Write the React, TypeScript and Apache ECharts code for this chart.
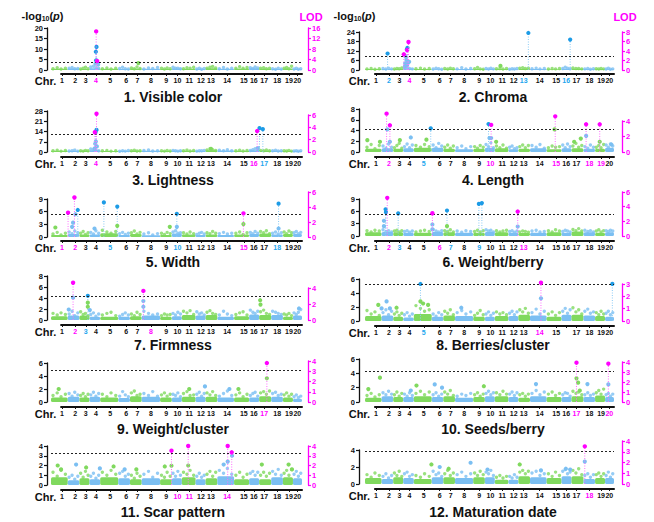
import React, { useEffect, useRef } from "react";
import * as echarts from "echarts";

// ---------- genome layout (chromosome spans and label positions, genome units) ----------
const chrStart = [-30, 20, 55, 85, 117, 171, 206, 241, 296, 331, 361, 402, 432, 467, 517, 562, 592, 628, 663, 693];
const chrEnd = [20, 55, 85, 117, 171, 206, 241, 296, 331, 361, 402, 432, 467, 517, 562, 592, 628, 663, 693, 720];
const chrTickPos = [3, 42, 74, 104, 147, 195, 228, 269, 314, 348, 383, 418, 448, 496, 546, 576, 607, 646, 681, 706];
// relative position of the four background markers inside each chromosome
const markerSlots = [0.12, 0.37, 0.6, 0.86];

// ---------- panel values ----------
const panelTitles = ["1. Visible color", "2. Chroma", "3. Lightness", "4. Length", "5. Width", "6. Weight/berry",
  "7. Firmness", "8. Berries/cluster", "9. Weight/cluster", "10. Seeds/berry", "11. Scar pattern", "12. Maturation date"];
const thresholds = [3.6, 8.8, 12.3, 4.28, 5.4, 5.4, 4.36, 5.24, 4.84, 4.34, 3.25, 3.88];
const leftMax = [20, 24, 28, 8, 9, 9, 8, 6, 6, 6, 4, 4];
const leftStep = [5, 6, 7, 2, 3, 3, 2, 2, 2, 2, 1, 2];
const lodMax = [16, 8, 6, 4, 6, 6, 4, 3, 4, 4, 4, 4];
const lodStep = [4, 2, 2, 2, 2, 2, 2, 1, 1, 1, 1, 1];
const magentaChr = [[4], [4], [4, 16], [2, 10, 15, 18, 19], [1, 2, 15], [2, 6, 13], [2, 8], [14], [17], [17, 20], [10, 11, 14], [18]];
const blueChr = [[], [2, 13, 16], [17], [5], [5, 10, 18], [3, 7, 9], [3], [5], [], [], [], []];
const hiddenChr = [[], [], [], [], [], [], [], [16], [], [], [], []];

// 1. Visible color
const visibleColorBand = [0.6, 0.7, 0.5, 0.8, 0.6, 0.5, 0.7, 0.6, 0.5, 0.7, 0.6, 0.5, 0.8, 0.6, 0.7, 0.8, 0.6, 0.5, 0.7, 0.5];
const visibleColorNoise = [0.6, 1.1, 0.5, 0.9, 0.8, 1.2, 0.6, 0.7, 0.5, 0.9, 1.3, 0.6, 1.4, 1.8, 1.0, 0.8, 0.6, 1.0, 0.5, 0.8,
  0.7, 1.3, 0.6, 0.5, 1.0, 0.6, 1.5, 0.7, 0.5, 1.0, 0.7, 1.2, 0.8, 0.5, 1.0, 0.6, 1.3, 0.8, 0.9, 0.6,
  0.6, 1.1, 0.9, 1.3, 0.5, 0.8, 0.4, 0.7, 0.9, 1.3, 1.7, 1.0, 0.6, 1.2, 0.5, 0.9, 0.9, 1.6, 0.8, 1.2,
  1.1, 0.7, 1.4, 1.0, 0.8, 1.1, 0.6, 0.9, 0.6, 0.4, 0.9, 0.5, 0.8, 1.2, 0.6, 1.8, 0.5, 0.9, 0.4, 0.6];
const visibleColorGwas = [[106, 11.0], [104, 8.7], [105, 4.6], [107, 4.1], [109, 3.4], [103, 3.0], [111, 2.6], [231, 3.3]];
const visibleColorLod = [[105, 14.7], [108, 3.4]];

// 2. Chroma
const chromaBand = [0.6, 0.7, 0.6, 0.9, 0.6, 0.5, 0.7, 0.6, 0.6, 0.6, 0.6, 0.5, 0.8, 0.7, 0.5, 0.8, 0.8, 0.6, 0.6, 0.5];
const chromaNoise = [0.7, 1.0, 0.5, 0.8, 0.9, 0.6, 1.2, 0.7, 0.6, 1.0, 0.8, 1.3, 1.6, 1.2, 0.9, 0.7, 0.8, 1.2, 0.6, 0.9,
  0.6, 1.1, 0.8, 0.5, 0.9, 0.6, 1.2, 0.8, 0.7, 1.4, 0.6, 0.9, 0.8, 1.6, 0.7, 0.5, 0.9, 0.6, 1.1, 0.7,
  0.8, 1.0, 0.6, 0.9, 0.5, 0.8, 0.6, 1.0, 1.2, 1.5, 0.9, 1.1, 0.8, 1.2, 0.7, 0.9, 0.6, 0.9, 0.7, 1.0,
  1.0, 1.8, 1.2, 0.8, 1.3, 0.9, 1.0, 0.7, 0.7, 0.9, 0.5, 0.8, 0.8, 0.6, 1.0, 0.7, 0.6, 1.1, 0.5, 0.7];
const chromaGwas = [[38, 10.4], [98, 14.0], [96, 12.9], [93, 8.3], [95, 6.3], [100, 4.6], [97, 3.1], [90, 2.1], [103, 5.2], [91, 4.2],
  [462, 23.4], [588, 19.2], [378, 2.6]];
const chromaLod = [[87, 3.3], [97, 4.2], [101, 5.9]];

// 3. Lightness
const lightnessBand = [0.8, 0.7, 0.8, 1.2, 0.7, 0.6, 0.8, 0.8, 0.7, 0.8, 0.8, 0.7, 1.2, 1.0, 0.8, 1.2, 0.9, 0.8, 0.7, 0.6];
const lightnessNoise = [0.8, 1.2, 0.6, 1.0, 0.7, 0.9, 1.3, 0.6, 0.9, 0.6, 1.1, 0.8, 2.0, 1.5, 1.2, 0.9, 0.8, 1.1, 0.6, 0.9,
  0.5, 0.8, 0.6, 1.0, 0.9, 1.2, 0.7, 0.8, 1.0, 1.4, 0.7, 0.9, 0.8, 0.6, 1.0, 0.7, 1.1, 0.8, 0.6, 0.9,
  0.9, 1.3, 0.7, 1.0, 0.6, 0.9, 0.8, 1.1, 1.4, 2.2, 1.6, 1.0, 1.2, 0.9, 1.5, 0.8, 0.9, 1.2, 0.7, 1.0,
  1.0, 1.6, 2.3, 1.2, 1.1, 0.8, 1.4, 0.9, 0.8, 1.2, 0.7, 0.9, 0.9, 0.7, 1.1, 0.6, 0.7, 0.9, 0.5, 0.8];
const lightnessGwas = [[106, 15.1], [103, 13.3], [104, 7.2], [102, 5.6], [107, 3.8], [100, 2.4], [593, 16.3], [603, 15.6], [588, 2.7], [448, 2.2]];
const lightnessLod = [[106, 6.2], [101, 3.2], [586, 3.4]];

// 4. Length
const lengthBand = [0.6, 0.7, 0.6, 0.7, 0.8, 0.8, 0.6, 0.5, 0.6, 0.8, 0.7, 0.5, 0.6, 0.7, 0.5, 0.7, 0.7, 0.6, 0.6, 0.8];
const lengthNoise = [0.9, 1.4, 0.6, 1.2, 1.1, 0.7, 1.5, 0.9, 0.8, 1.2, 1.6, 0.7, 1.0, 1.5, 0.8, 1.3, 1.2, 0.9, 1.4, 1.0,
  1.3, 0.8, 1.6, 1.1, 0.9, 1.3, 0.7, 1.1, 0.8, 1.1, 0.6, 1.0, 1.0, 0.7, 1.2, 0.9, 1.4, 1.0, 1.7, 0.8,
  1.1, 0.8, 1.3, 0.7, 0.9, 1.1, 0.6, 0.8, 1.0, 1.3, 0.8, 1.2, 1.2, 0.9, 1.4, 0.7, 0.8, 1.1, 0.9, 1.0,
  1.3, 0.8, 1.5, 1.0, 1.1, 1.6, 0.9, 1.2, 1.0, 0.7, 1.3, 0.9, 0.9, 1.2, 0.8, 1.4, 1.3, 0.9, 1.5, 1.1];
const lengthGwas = [[37, 4.2], [45, 1.9], [-23, 2.2], [15, 1.9], [75, 2.2], [108, 2.7], [155, 2.3], [168, 4.4], [342, 5.2], [345, 2.6],
  [350, 2.6], [365, 1.9], [541, 4.2], [636, 3.0], [677, 1.9], [620, 2.5], [600, 1.9], [712, 1.4]];
const lengthLod = [[35, 4.95], [45, 3.44], [350, 3.5], [543, 4.6], [636, 3.57], [677, 3.57]];

// 5. Width
const widthBand = [0.5, 0.7, 0.6, 0.6, 0.9, 0.5, 0.7, 0.4, 0.5, 0.8, 0.6, 0.5, 0.6, 0.5, 0.6, 0.7, 0.8, 0.6, 0.7, 0.7];
const widthNoise = [0.7, 1.1, 0.5, 0.9, 1.2, 0.8, 1.4, 1.0, 0.9, 1.3, 0.6, 1.0, 1.1, 0.7, 1.5, 0.9, 1.6, 1.2, 0.9, 1.3,
  0.8, 1.1, 0.6, 0.9, 1.0, 1.4, 0.7, 1.1, 0.7, 1.0, 0.5, 0.8, 0.9, 0.6, 1.1, 0.8, 1.2, 1.5, 0.9, 1.0,
  1.0, 0.7, 1.2, 0.8, 0.6, 0.9, 1.1, 0.7, 1.0, 0.8, 1.3, 0.9, 0.8, 1.1, 0.7, 0.9, 0.9, 1.2, 0.6, 1.0,
  1.1, 0.8, 1.3, 0.9, 1.3, 1.0, 1.5, 0.8, 0.9, 1.2, 0.7, 1.0, 1.2, 0.8, 1.4, 1.0, 1.0, 1.3, 0.8, 1.1];
const widthGwas = [[50, 6.4], [43, 5.4], [36, 3.4], [33, 2.4], [-17, 2.25], [128, 8.2], [168, 7.2], [168, 2.65], [346, 5.5], [346, 2.4],
  [545, 3.05], [650, 7.9], [650, 2.0], [100, 2.0], [325, 2.4]];
const widthLod = [[21, 3.24], [40, 5.27], [545, 3.15]];

// 6. Weight/berry
const weightBerryBand = [0.9, 1.0, 0.9, 0.8, 0.8, 1.0, 0.9, 0.8, 0.8, 1.0, 0.9, 0.8, 0.7, 0.8, 0.9, 0.8, 1.1, 0.9, 0.8, 0.9];
const weightBerryNoise = [1.3, 1.0, 1.4, 1.2, 1.5, 1.1, 1.3, 1.0, 1.2, 1.4, 1.0, 1.3, 1.1, 1.3, 0.9, 1.2, 1.0, 1.2, 1.4, 1.1,
  1.6, 1.2, 1.0, 1.3, 1.3, 1.1, 1.5, 1.0, 1.2, 0.9, 1.3, 1.1, 1.1, 1.4, 1.0, 1.3, 1.5, 1.2, 1.4, 1.0,
  1.3, 1.0, 1.2, 1.4, 1.1, 1.3, 0.9, 1.2, 1.0, 1.2, 1.1, 0.9, 1.2, 1.4, 1.0, 1.1, 1.3, 1.0, 1.5, 1.2,
  1.1, 1.4, 1.2, 1.0, 1.6, 1.3, 1.8, 1.2, 1.4, 1.1, 1.3, 1.0, 1.2, 1.5, 1.0, 1.3, 1.3, 1.1, 1.4, 1.2];
const weightBerryGwas = [[32, 6.5], [33, 5.8], [27, 3.7], [27, 2.4], [70, 5.5], [173, 2.8], [173, 1.6], [217, 6.2], [217, 2.4],
  [313, 7.8], [322, 8.0], [430, 2.3]];
const weightBerryLod = [[37, 5.2], [173, 3.1], [430, 3.33]];

// 7. Firmness
const firmnessBand = [0.7, 0.8, 0.8, 0.6, 0.6, 0.6, 0.7, 0.8, 0.6, 0.7, 0.9, 0.8, 0.9, 0.6, 0.7, 1.0, 0.9, 0.9, 0.6, 0.8];
const firmnessNoise = [1.2, 0.9, 1.3, 1.0, 1.1, 1.6, 0.8, 1.3, 1.5, 1.0, 1.2, 0.8, 1.0, 1.3, 0.7, 1.1, 0.9, 1.2, 1.4, 0.8,
  0.7, 1.0, 1.3, 0.9, 1.1, 0.8, 1.4, 1.0, 1.6, 1.2, 0.9, 1.1, 0.8, 1.1, 0.9, 1.0, 1.2, 0.9, 1.4, 1.1,
  1.6, 1.3, 1.7, 1.0, 1.5, 1.1, 1.3, 0.9, 1.4, 1.7, 1.2, 1.0, 0.9, 1.6, 1.1, 0.8, 1.0, 1.3, 1.5, 0.9,
  1.8, 1.4, 1.2, 1.6, 1.5, 1.8, 1.2, 1.0, 1.6, 1.4, 1.2, 1.0, 1.1, 0.9, 1.2, 0.8, 1.3, 1.0, 1.4, 1.9];
const firmnessGwas = [[36, 4.06], [23, 1.9], [80, 4.4], [80, 3.15], [80, 2.4], [86, 1.8], [246, 3.45], [246, 2.4], [595, 3.6], [596, 2.8], [711, 2.1]];
const firmnessLod = [[36, 4.66], [246, 3.63]];

// 8. Berries/cluster
const berriesClusterBand = [0.7, 0.8, 0.6, 0.5, 1.0, 0.6, 0.8, 0.7, 0.6, 0.6, 0.7, 0.7, 0.9, 0.8, 0.6, 0.9, 0.9, 0.8, 0.7, 0.6];
const berriesClusterNoise = [1.5, 1.0, 1.3, 0.8, 1.2, 1.6, 0.9, 1.4, 1.0, 1.3, 0.8, 1.1, 0.9, 1.2, 0.7, 1.0, 2.2, 1.8, 1.4, 1.6,
  1.0, 0.7, 1.2, 0.9, 1.4, 1.1, 1.6, 0.9, 1.2, 1.5, 1.0, 1.3, 0.8, 1.1, 1.5, 0.9, 1.0, 1.3, 0.8, 1.1,
  1.3, 1.0, 1.2, 0.9, 1.1, 1.4, 0.9, 1.3, 1.6, 1.3, 1.8, 1.1, 1.2, 1.7, 1.0, 1.4, 1.0, 1.3, 0.8, 1.2,
  1.4, 1.8, 1.1, 1.6, 1.9, 1.3, 1.6, 1.0, 1.4, 1.7, 1.1, 1.3, 1.2, 0.9, 1.4, 1.0, 1.1, 1.4, 0.9, 1.2];
const berriesClusterGwas = [[137, 5.29], [137, 2.8], [145, 2.5], [500, 3.24], [715, 5.3], [10, 2.3], [20, 1.8], [35, 2.8], [45, 1.8],
  [65, 1.9], [260, 1.9], [160, 2.3]];
const berriesClusterLod = [[500, 3.1]];

// 9. Weight/cluster
const weightClusterBand = [0.7, 0.8, 0.7, 0.8, 0.7, 0.6, 0.9, 0.8, 0.7, 0.7, 0.8, 0.8, 0.8, 0.7, 0.7, 0.7, 0.9, 0.8, 0.7, 0.5];
const weightClusterNoise = [1.0, 1.4, 0.8, 1.2, 1.3, 0.9, 1.5, 1.1, 1.0, 1.3, 0.8, 1.2, 1.1, 1.5, 0.9, 1.3, 1.2, 0.8, 1.4, 1.0,
  0.9, 1.6, 1.1, 0.8, 1.4, 1.7, 1.0, 1.2, 1.3, 1.0, 1.6, 0.9, 1.1, 1.4, 0.9, 1.2, 1.2, 1.0, 1.4, 0.8,
  1.3, 1.6, 1.0, 1.1, 1.2, 1.5, 0.9, 1.3, 1.4, 1.1, 1.6, 1.0, 0.9, 1.3, 1.7, 1.0, 1.1, 1.4, 0.8, 1.2,
  1.0, 1.3, 1.5, 0.9, 1.4, 1.6, 1.2, 1.7, 1.3, 1.5, 1.0, 1.2, 1.1, 1.4, 0.9, 1.2, 0.8, 1.1, 0.7, 0.9];
const weightClusterGwas = [[615, 3.65], [-7, 2.0], [383, 2.0], [430, 2.4], [503, 2.0], [530, 2.0]];
const weightClusterLod = [[615, 3.8]];

// 10. Seeds/berry
const seedsBerryBand = [0.6, 0.8, 0.7, 0.7, 0.8, 0.7, 0.8, 0.6, 0.7, 0.8, 0.8, 0.7, 0.6, 0.8, 0.7, 0.7, 0.8, 0.7, 0.9, 0.7];
const seedsBerryNoise = [0.9, 1.2, 0.7, 1.0, 1.3, 1.0, 1.5, 1.1, 1.0, 1.4, 0.8, 1.2, 1.1, 0.8, 1.3, 0.9, 1.2, 1.5, 1.0, 1.4,
  1.0, 1.3, 0.8, 1.1, 1.4, 1.1, 1.6, 0.9, 0.8, 1.1, 0.9, 1.2, 1.0, 1.3, 0.8, 1.1, 1.2, 1.5, 1.0, 1.3,
  1.3, 1.0, 1.5, 1.1, 1.1, 1.4, 0.9, 1.3, 1.0, 1.2, 0.8, 1.1, 1.2, 1.6, 1.0, 1.4, 1.1, 1.4, 0.9, 1.2,
  1.0, 1.3, 1.2, 0.8, 1.5, 1.2, 1.4, 1.0, 1.0, 1.3, 0.9, 1.1, 1.3, 1.6, 1.1, 1.8, 1.0, 1.2, 0.8, 1.1];
const seedsBerryGwas = [[607, 3.3], [612, 2.7], [703, 2.45], [15, 3.4], [-20, 1.8], [180, 2.45], [202, 2.0], [328, 2.2], [485, 2.5],
  [640, 2.5], [617, 1.6], [108, 1.6], [125, 2.3]];
const seedsBerryLod = [[607, 3.93], [703, 3.83]];

// 11. Scar pattern
const scarPatternBand = [0.8, 0.5, 0.7, 0.6, 0.8, 0.7, 0.6, 0.7, 0.6, 0.7, 0.8, 0.6, 0.7, 0.9, 0.6, 0.7, 0.6, 0.8, 0.8, 0.7];
const scarPatternNoise = [1.3, 0.9, 1.5, 1.1, 0.8, 1.0, 0.6, 0.9, 1.2, 0.8, 1.4, 1.0, 0.9, 1.2, 0.7, 1.0, 1.3, 1.0, 1.5, 1.1,
  1.2, 1.4, 0.9, 1.1, 1.0, 0.7, 1.2, 0.9, 1.1, 1.4, 0.8, 1.2, 1.0, 0.8, 1.3, 0.9, 1.2, 0.9, 1.4, 1.0,
  1.3, 1.1, 1.5, 1.0, 0.9, 1.2, 0.8, 1.0, 1.1, 1.4, 0.9, 1.3, 1.5, 1.2, 1.7, 1.1, 1.0, 1.3, 0.8, 1.1,
  1.2, 1.4, 1.0, 1.3, 1.0, 1.3, 0.9, 1.2, 1.4, 1.1, 1.6, 1.0, 1.2, 1.5, 1.0, 1.6, 1.1, 1.4, 0.9, 1.2];
const scarPatternGwas = [[330, 1.98], [380, 2.0], [498, 2.4], [486, 2.1], [511, 3.0], [-10, 2.0], [0, 1.6], [45, 2.1], [75, 1.8],
  [116, 1.7], [157, 1.9], [190, 1.6], [225, 1.6], [310, 1.9], [600, 2.1], [680, 2.1], [690, 1.6]];
const scarPatternLod = [[330, 3.52], [380, 4.0], [498, 4.0], [510, 3.35]];

// 12. Maturation date
const maturationBand = [0.7, 0.6, 0.8, 0.7, 0.6, 0.8, 0.8, 0.7, 0.8, 0.8, 0.5, 0.5, 0.9, 0.8, 0.7, 0.9, 0.9, 0.6, 0.7, 0.7];
const maturationNoise = [1.1, 0.8, 1.3, 1.0, 0.9, 1.2, 0.7, 1.0, 1.3, 1.0, 1.5, 0.9, 1.2, 1.4, 0.9, 1.1, 1.0, 0.8, 1.2, 0.9,
  1.5, 1.1, 1.3, 0.9, 1.2, 1.6, 1.0, 1.3, 1.1, 1.4, 0.9, 1.2, 1.3, 1.0, 1.5, 1.1, 1.4, 1.2, 1.6, 1.0,
  0.8, 1.0, 0.7, 0.9, 0.9, 0.7, 1.1, 0.8, 1.4, 1.6, 1.2, 1.5, 1.3, 1.5, 1.0, 1.2, 1.2, 0.9, 1.4, 1.0,
  1.5, 1.7, 1.2, 1.4, 1.6, 1.3, 1.8, 1.1, 1.0, 1.2, 0.8, 1.1, 1.1, 1.3, 0.9, 1.2, 1.0, 1.4, 0.8, 1.2];
const maturationGwas = [[632, 2.64], [170, 2.3], [288, 2.5], [436, 2.3], [195, 2.0], [222, 1.8], [339, 1.7], [500, 1.6], [575, 1.8], [588, 1.7]];
const maturationLod = [[632, 3.5]];

const bands = [visibleColorBand, chromaBand, lightnessBand, lengthBand, widthBand, weightBerryBand, firmnessBand,
  berriesClusterBand, weightClusterBand, seedsBerryBand, scarPatternBand, maturationBand];
const noises = [visibleColorNoise, chromaNoise, lightnessNoise, lengthNoise, widthNoise, weightBerryNoise, firmnessNoise,
  berriesClusterNoise, weightClusterNoise, seedsBerryNoise, scarPatternNoise, maturationNoise];
const gwasHits = [visibleColorGwas, chromaGwas, lightnessGwas, lengthGwas, widthGwas, weightBerryGwas, firmnessGwas,
  berriesClusterGwas, weightClusterGwas, seedsBerryGwas, scarPatternGwas, maturationGwas];
const lodPeaks = [visibleColorLod, chromaLod, lightnessLod, lengthLod, widthLod, weightBerryLod, firmnessLod,
  berriesClusterLod, weightClusterLod, seedsBerryLod, scarPatternLod, maturationLod];

// ---------- layout (pixels) ----------
const X_MIN = -30;
const X_MAX = 720;
const COLS = [
  { gridLeft: 51, gridWidth: 251, leftOff: 4, rightOff: 6, titleX: 173 },
  { gridLeft: 365, gridWidth: 249, leftOff: 6, rightOff: 8, titleX: 493 },
];
const LAYOUT = [
  { col: 0, top: 28, zero: 70, xLine: 74, lodTop: 28, titleY: 97, names: true },
  { col: 1, top: 32, zero: 70, xLine: 74, lodTop: 32, titleY: 97, names: true },
  { col: 0, top: 111, zero: 152, xLine: 157, lodTop: 115, titleY: 180 },
  { col: 1, top: 109, zero: 152, xLine: 157, lodTop: 121, titleY: 180 },
  { col: 0, top: 199, zero: 237, xLine: 241, lodTop: 192, titleY: 262 },
  { col: 1, top: 199, zero: 236, xLine: 241, lodTop: 192, titleY: 262 },
  { col: 0, top: 276, zero: 320, xLine: 325, lodTop: 288, titleY: 345 },
  { col: 1, top: 279, zero: 321, xLine: 326, lodTop: 284, titleY: 345 },
  { col: 0, top: 363, zero: 402, xLine: 407, lodTop: 361, titleY: 429 },
  { col: 1, top: 359, zero: 402, xLine: 407, lodTop: 362, titleY: 429 },
  { col: 0, top: 446, zero: 485, xLine: 490, lodTop: 446, titleY: 512 },
  { col: 1, top: 450, zero: 484, xLine: 489, lodTop: 441, titleY: 512 },
];

const FONT = "'Liberation Sans', Arial, Helvetica, sans-serif";
const INK = "#111111";
const GREEN = "#80d95e";
const BLUE = "#7bbff2";
const HIT_BLUE = "#1c9be6";
const BLUE_STEM = "#8ccbf5";
const MAGENTA = "#ff00ff";
const MAGENTA_STEM = "#ff70ff";
const LABEL_BLUE = "#1ea6ee";

function chrIndexAt(x: number) {
  for (let c = 0; c < chrEnd.length; c++) if (x < chrEnd[c]) return c;
  return chrEnd.length - 1;
}
function chrColor(c: number) {
  return c % 2 === 0 ? GREEN : BLUE;
}

function buildOption() {
  const grid: any[] = [];
  const xAxis: any[] = [];
  const yAxis: any[] = [];
  const series: any[] = [];

  panelTitles.forEach((_t, i) => {
    const L: any = LAYOUT[i];
    const C = COLS[L.col];
    const thr = thresholds[i];
    const gA = i * 3, gB = i * 3 + 1, gC = i * 3 + 2;
    const axisStart = C.gridLeft + (C.gridWidth * (0 - X_MIN)) / (X_MAX - X_MIN);

    grid.push(
      { left: C.gridLeft, top: L.top, width: C.gridWidth, height: L.zero - L.top, outerBoundsMode: "none" },
      { left: C.gridLeft, top: L.lodTop, width: C.gridWidth, height: L.zero - L.lodTop, outerBoundsMode: "none" },
      { left: axisStart, top: L.xLine - 1, width: C.gridLeft + C.gridWidth - axisStart, height: 1, outerBoundsMode: "none" }
    );

    xAxis.push(
      { gridIndex: gA, type: "value", min: X_MIN, max: X_MAX, show: false },
      { gridIndex: gB, type: "value", min: X_MIN, max: X_MAX, show: false },
      {
        gridIndex: gC, type: "value", min: 0, max: X_MAX, position: "bottom",
        axisLine: { show: true, onZero: false, lineStyle: { color: INK, width: 2 } },
        axisTick: { show: true, customValues: chrTickPos, length: 2, lineStyle: { color: INK, width: 1 } },
        axisLabel: {
          show: true, customValues: chrTickPos, margin: 3, fontSize: 7, fontWeight: "bold", color: INK, fontFamily: FONT,
          hideOverlap: false, showMinLabel: true, showMaxLabel: true,
          formatter: (val: any) => {
            const c = chrTickPos.indexOf(Number(val));
            if (c < 0 || hiddenChr[i].includes(c + 1)) return "";
            const n = String(c + 1);
            if (magentaChr[i].includes(c + 1)) return `{m|${n}}`;
            if (blueChr[i].includes(c + 1)) return `{b|${n}}`;
            return n;
          },
          rich: {
            m: { color: MAGENTA, fontSize: 7, fontWeight: "bold", fontFamily: FONT },
            b: { color: LABEL_BLUE, fontSize: 7, fontWeight: "bold", fontFamily: FONT },
          },
        },
        splitLine: { show: false },
        name: "Chr.", nameLocation: "start", nameGap: 3,
        nameTextStyle: { fontSize: 11, fontWeight: "bold", color: INK, fontFamily: FONT, verticalAlign: "top", padding: [1, 0, 0, 0] },
      }
    );

    const yA: any = {
      gridIndex: gA, type: "value", min: 0, max: leftMax[i], interval: leftStep[i], position: "left", offset: C.leftOff,
      axisLine: { show: true, onZero: false, lineStyle: { color: INK, width: 1.3 } },
      axisTick: { show: true, length: 3, lineStyle: { color: INK, width: 1.2 } },
      axisLabel: { fontSize: 7.5, fontWeight: "bold", color: INK, margin: 4, fontFamily: FONT },
      splitLine: { show: false },
    };
    const yB: any = {
      gridIndex: gB, type: "value", min: 0, max: lodMax[i], interval: lodStep[i], position: "right", offset: C.rightOff,
      axisLine: { show: true, onZero: false, lineStyle: { color: MAGENTA, width: 1.3 } },
      axisTick: { show: true, length: 3, lineStyle: { color: MAGENTA, width: 1.2 } },
      axisLabel: { fontSize: 7.5, fontWeight: "bold", color: MAGENTA, margin: 4, fontFamily: FONT },
      splitLine: { show: false },
    };
    if (L.names) {
      yA.name = "{a|-log}{s|10}{a|(}{i|p}{a|)}";
      yA.nameLocation = "end";
      yA.nameGap = L.top - 22;
      yA.nameTextStyle = {
        padding: [0, 9, 0, 0],
        rich: {
          a: { fontSize: 11, fontWeight: "bold", color: INK, fontFamily: FONT },
          s: { fontSize: 7, fontWeight: "bold", color: INK, fontFamily: FONT, padding: [6, 0, 0, 0] },
          i: { fontSize: 11, fontWeight: "bold", fontStyle: "italic", color: INK, fontFamily: FONT },
        },
      };
      yB.name = "LOD";
      yB.nameLocation = "end";
      yB.nameGap = L.lodTop - 22;
      yB.nameTextStyle = { fontSize: 11, fontWeight: "bold", color: MAGENTA, fontFamily: FONT, padding: [0, 0, 0, 6] };
    }
    yAxis.push(yA, yB, { gridIndex: gC, type: "value", min: 0, max: 1, show: false });

    // dense low-significance mass per chromosome
    series.push({
      type: "custom", xAxisIndex: gA, yAxisIndex: gA, z: 1, silent: true,
      data: bands[i].map((v, c) => [chrStart[c], chrEnd[c], v, c]),
      encode: { x: [0, 1], y: 2 },
      renderItem: (_p: any, api: any) => {
        const a = api.coord([api.value(0), 0]);
        const b = api.coord([api.value(1), api.value(2)]);
        return {
          type: "rect",
          shape: { x: a[0], y: b[1], width: b[0] - a[0], height: a[1] - b[1], r: 1.5 },
          style: { fill: chrColor(api.value(3)) },
        };
      },
    });

    // background markers + threshold
    series.push({
      type: "scatter", xAxisIndex: gA, yAxisIndex: gA, z: 2, silent: true, symbolSize: 3.4,
      data: noises[i].map((v, k) => {
        const c = Math.floor(k / 4);
        const f = markerSlots[k % 4];
        return { value: [chrStart[c] + f * (chrEnd[c] - chrStart[c]), v], itemStyle: { color: chrColor(c) } };
      }),
      markLine: {
        silent: true, symbol: "none", label: { show: false },
        lineStyle: { color: "#222222", type: [2, 2], width: 1.2 },
        data: [{ yAxis: thr }],
      },
    });

    // GWAS highlighted markers
    series.push({
      type: "custom", xAxisIndex: gA, yAxisIndex: gA, z: 4, silent: true,
      data: gwasHits[i], encode: { x: 0, y: 1 },
      renderItem: (_p: any, api: any) => {
        const x = api.value(0), v = api.value(1);
        const base = api.coord([x, 0]);
        const p = api.coord([x, v]);
        const sig = v > thr;
        const children: any[] = [];
        if (sig) children.push({ type: "line", shape: { x1: p[0], y1: base[1], x2: p[0], y2: p[1] }, style: { stroke: BLUE_STEM, lineWidth: 1, lineDash: [1, 1.5] } });
        children.push({ type: "circle", shape: { cx: p[0], cy: p[1], r: 2.1 }, style: { fill: sig ? HIT_BLUE : chrColor(chrIndexAt(x)) } });
        return { type: "group", children };
      },
    });

    // QTL LOD peaks
    series.push({
      type: "custom", xAxisIndex: gB, yAxisIndex: gB, z: 5, silent: true,
      data: lodPeaks[i], encode: { x: 0, y: 1 },
      renderItem: (_p: any, api: any) => {
        const x = api.value(0), v = api.value(1);
        const base = api.coord([x, 0]);
        const p = api.coord([x, v]);
        return {
          type: "group",
          children: [
            { type: "line", shape: { x1: p[0], y1: base[1], x2: p[0], y2: p[1] }, style: { stroke: MAGENTA_STEM, lineWidth: 1, lineDash: [1, 1.5] } },
            { type: "circle", shape: { cx: p[0], cy: p[1], r: 2.2 }, style: { fill: MAGENTA } },
          ],
        };
      },
    });
  });

  const graphic = panelTitles.map((t, i) => ({
    type: "text",
    x: COLS[LAYOUT[i].col].titleX,
    y: LAYOUT[i].titleY,
    silent: true,
    style: {
      text: t, fill: INK, font: `bold 14px ${FONT}`,
      textAlign: "center", textVerticalAlign: "middle", align: "center", verticalAlign: "middle",
    },
  }));

  return {
    animation: false,
    backgroundColor: "#ffffff",
    textStyle: { fontFamily: FONT },
    grid, xAxis, yAxis, series, graphic,
  };
}

export default function App() {
  const ref = useRef<HTMLDivElement>(null);
  useEffect(() => {
    if (!ref.current) return;
    const chart = echarts.init(ref.current, null, { renderer: "svg" });
    chart.setOption(buildOption() as any);
    return () => chart.dispose();
  }, []);
  return (
    <div
      ref={ref}
      style={{ position: "fixed", left: 0, top: 0, width: 654, height: 522, background: "#ffffff" }}
    />
  );
}
